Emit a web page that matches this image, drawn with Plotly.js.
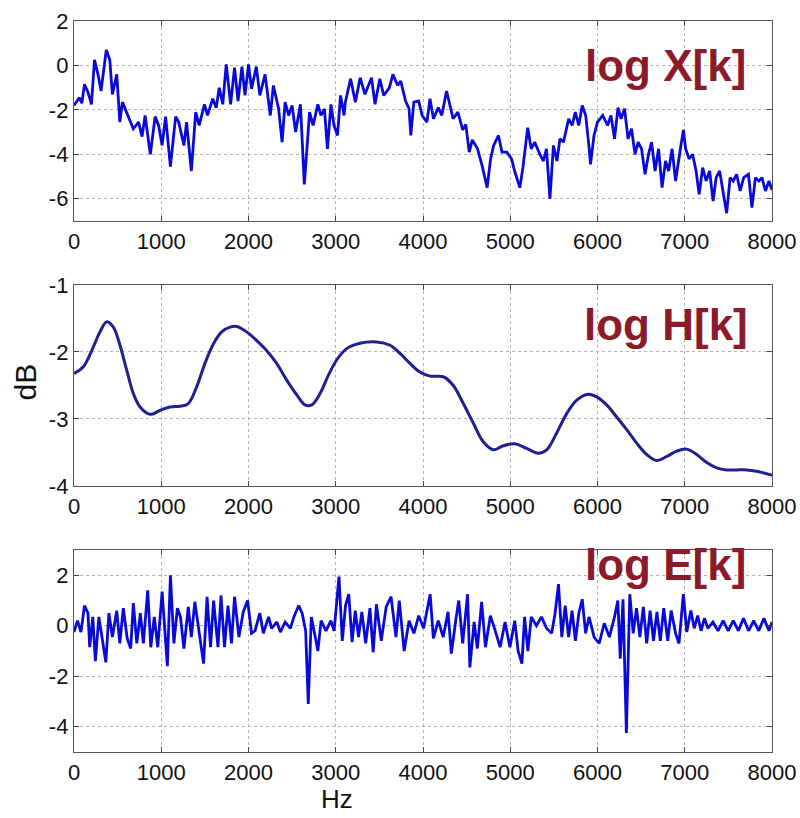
<!DOCTYPE html>
<html>
<head>
<meta charset="utf-8">
<script src="https://cdn.plot.ly/plotly-3.0.1.min.js"></script>
<style>
html,body{margin:0;padding:0;background:#fff;}
#chart{width:800px;height:818px;}
</style>
</head>
<body>
<div id="chart"></div>
<script>
// ---- data ----
const freqX = [0,60,90,120,160,200,235,275,310,370,410,440,490,525,555,620,680,740,780,815,875,930,970,1010,1050,1105,1165,1200,1260,1290,1345,1395,1435,1495,1530,1590,1630,1665,1705,1745,1795,1840,1880,1925,1960,2000,2035,2090,2130,2190,2250,2285,2345,2385,2420,2460,2500,2540,2595,2640,2700,2740,2795,2830,2870,2905,2945,2980,3020,3055,3095,3110,3170,3225,3280,3335,3410,3450,3505,3550,3615,3655,3710,3745,3800,3840,3860,3895,3950,3990,4045,4080,4120,4175,4215,4270,4305,4345,4400,4455,4490,4530,4565,4625,4680,4735,4775,4810,4865,4905,4960,5015,5050,5110,5145,5200,5240,5280,5340,5380,5415,5455,5495,5535,5570,5610,5670,5710,5745,5785,5825,5865,5905,5920,5960,6000,6060,6115,6155,6195,6235,6270,6310,6350,6390,6430,6465,6505,6545,6585,6620,6660,6700,6740,6780,6815,6855,6895,6950,6985,7010,7050,7090,7130,7165,7205,7245,7285,7325,7360,7400,7440,7480,7520,7555,7595,7635,7675,7730,7770,7810,7850,7885,7925,7965,8000];
const logX = [-1.8,-1.45,-1.7,-0.85,-1.2,-1.75,0.25,-0.4,-1.15,0.7,0.25,-1.3,-0.4,-2.55,-1.65,-2.25,-2.85,-2.55,-3.2,-2.25,-4.0,-2.3,-2.7,-3.6,-2.3,-4.55,-2.3,-2.55,-3.6,-2.55,-4.75,-2.1,-2.7,-1.75,-2.25,-1.5,-1.9,-1.0,-1.75,0.05,-1.75,-0.1,-1.6,-0.05,-1.35,0.05,-1.05,-0.05,-1.35,-0.4,-2.25,-0.9,-1.95,-3.45,-1.65,-2.25,-1.8,-3.0,-1.75,-5.35,-2.1,-2.7,-1.75,-2.25,-1.95,-3.75,-1.75,-2.7,-3.15,-1.35,-2.25,-1.65,-0.6,-1.65,-0.55,-1.3,-0.55,-1.75,-0.6,-1.35,-1.0,-0.4,-0.9,-0.7,-1.6,-1.95,-3.15,-1.65,-1.6,-2.25,-2.55,-1.5,-2.4,-1.9,-2.25,-1.15,-1.8,-2.4,-2.1,-2.9,-2.65,-3.9,-3.35,-3.75,-4.55,-5.5,-4.2,-3.6,-3.15,-3.9,-3.9,-4.2,-4.75,-5.5,-4.6,-2.8,-3.75,-3.45,-4.0,-4.3,-3.75,-6.0,-3.6,-4.3,-3.3,-3.45,-2.4,-2.7,-2.1,-2.7,-1.8,-2.25,-3.75,-4.45,-3.15,-2.55,-2.25,-2.7,-2.25,-3.3,-1.9,-2.4,-1.95,-3.3,-2.85,-4.0,-3.45,-3.75,-4.9,-4.0,-3.45,-4.75,-3.75,-5.5,-4.3,-4.75,-3.75,-5.2,-3.75,-2.9,-3.75,-4.2,-4.0,-4.75,-5.8,-4.6,-5.2,-4.75,-6.1,-5.05,-4.75,-5.8,-6.65,-5.05,-5.2,-4.9,-5.65,-5.05,-4.9,-6.4,-5.05,-5.2,-5.05,-5.65,-5.2,-5.6];

const freqH = [0,107,203,298,375,451,527,604,680,756,833,890,986,1100,1215,1310,1406,1501,1597,1693,1788,1865,1979,2094,2209,2323,2438,2553,2648,2725,2820,2915,3010,3125,3278,3469,3622,3736,3851,3965,4080,4233,4347,4462,4576,4691,4806,4920,5054,5188,5322,5418,5532,5647,5762,5895,5991,6105,6220,6335,6449,6564,6679,6793,6908,7022,7137,7252,7366,7481,7595,7710,7824,7977,8000];
const logH = [-2.32,-2.22,-1.98,-1.70,-1.55,-1.63,-1.90,-2.27,-2.62,-2.82,-2.91,-2.93,-2.87,-2.82,-2.81,-2.77,-2.52,-2.17,-1.88,-1.70,-1.63,-1.62,-1.70,-1.83,-1.98,-2.17,-2.42,-2.64,-2.79,-2.79,-2.62,-2.35,-2.12,-1.95,-1.87,-1.85,-1.90,-2.02,-2.17,-2.30,-2.36,-2.37,-2.50,-2.77,-3.06,-3.34,-3.46,-3.40,-3.37,-3.44,-3.51,-3.46,-3.21,-2.92,-2.72,-2.63,-2.67,-2.79,-2.97,-3.16,-3.36,-3.53,-3.62,-3.56,-3.48,-3.45,-3.53,-3.65,-3.73,-3.76,-3.76,-3.76,-3.78,-3.83,-3.84];

const freqE = [0,40,80,120,160,180,215,245,285,325,365,400,440,490,525,565,610,650,680,720,760,795,845,880,920,960,1010,1070,1105,1145,1185,1220,1260,1310,1345,1385,1435,1485,1525,1565,1600,1650,1685,1725,1765,1805,1840,1890,1940,1990,2035,2075,2130,2170,2230,2265,2325,2365,2420,2480,2520,2575,2615,2655,2685,2720,2757,2795,2832,2888,2944,2981,3037,3075,3112,3149,3187,3224,3261,3299,3343,3392,3429,3466,3522,3578,3634,3690,3728,3784,3840,3896,3951,4007,4082,4119,4175,4231,4287,4325,4381,4410,4455,4511,4537,4586,4623,4672,4716,4772,4828,4884,4940,4996,5052,5090,5134,5164,5202,5241,5300,5358,5416,5475,5514,5553,5591,5630,5669,5708,5747,5786,5825,5864,5903,5961,6019,6078,6136,6195,6233,6261,6292,6331,6370,6409,6447,6486,6525,6564,6603,6642,6681,6720,6759,6805,6844,6895,6934,6984,7023,7070,7109,7148,7187,7226,7265,7323,7381,7440,7498,7556,7615,7673,7732,7790,7848,7907,7965,8000];
const logE = [-0.25,0.2,-0.25,0.8,0.5,-0.85,0.35,-1.4,0.35,-0.6,-1.45,0.5,-0.45,0.6,-0.7,0.7,-0.5,-0.9,0.9,-0.7,0.5,-0.7,1.4,-0.85,0.35,-0.85,1.35,-1.6,2.0,-0.7,0.7,0.35,-0.9,0.75,-0.45,0.95,-0.2,-1.5,1.15,-0.85,1.0,-0.85,1.2,-0.85,0.8,-0.7,1.15,-0.45,0.55,1.0,-0.3,-0.2,0.5,-0.3,0.35,-0.1,0.15,-0.25,0.15,-0.1,0.35,0.8,0.5,-0.2,-3.1,0.35,-0.3,-1.0,0.2,-0.2,0.2,-0.2,1.95,-0.6,0.8,1.25,-0.65,0.6,-0.45,0.55,-0.7,0.7,-1.05,0.85,-0.6,0.75,1.15,-0.45,1.0,-1.0,0.2,-0.3,0.4,-0.1,1.25,-0.5,0.2,-0.45,0.55,-1.1,0.35,1.0,-0.7,1.25,-1.65,0.15,-0.9,0.95,-0.85,0.4,-0.2,-0.85,0.15,-0.85,0.2,-1.0,-1.5,0.35,-1.0,0.35,0.0,0.35,-0.1,-0.3,0.5,1.65,-0.45,0.8,-0.45,0.6,-0.6,0.5,1.05,-0.3,0.35,-0.45,-0.7,0.1,-0.45,0.35,1.0,-1.3,1.05,-4.25,1.25,-0.3,0.7,-0.45,0.75,-0.7,0.6,-0.6,0.55,-0.6,0.7,-0.6,0.6,-0.3,-0.7,1.25,-0.25,0.6,-0.1,0.4,-0.2,0.3,-0.1,0.15,-0.2,0.2,-0.2,0.2,-0.2,0.3,-0.2,0.2,-0.2,0.3,-0.2,0.15];

const hzTicks = [0,1000,2000,3000,4000,5000,6000,7000,8000];
const hzTickText = ["0","1000","2000","3000","4000","5000","6000","7000","8000"];
const yTicksX = [-6,-4,-2,0,2];
const yTextX = ["-6","-4","-2","0","2"];
const yTicksH = [-4,-3,-2,-1];
const yTextH = ["-4","-3","-2","-1"];
const yTicksE = [-4,-2,0,2];
const yTextE = ["-4","-2","0","2"];
const labels = ["log X[k]","log H[k]","log E[k]"];

// ---- styling ----
const tickFont = {family:"Liberation Sans, Arial, sans-serif", size:22, color:"#111"};
function xax(anchor){
  return {anchor:anchor, range:[0,8000], tickvals:hzTicks, ticktext:hzTickText, tickfont:tickFont,
    ticklabeloverflow:"allow",
    showgrid:true, gridcolor:"#b4b4b4", griddash:"dot", gridwidth:1, zeroline:false,
    showline:true, linecolor:"#555", linewidth:1.2, mirror:"ticks", ticks:"inside", ticklen:5, tickcolor:"#444"};
}
function yax(domain, range, vals, text){
  return {domain:domain, range:range, tickvals:vals, ticktext:text, tickfont:tickFont,
    ticklabeloverflow:"allow",
    showgrid:true, gridcolor:"#b4b4b4", griddash:"dot", gridwidth:1, zeroline:false,
    showline:true, linecolor:"#555", linewidth:1.2, mirror:"ticks", ticks:"inside", ticklen:5, tickcolor:"#444"};
}

const traces = [
  {x:freqX, y:logX, xaxis:"x", yaxis:"y", type:"scatter", mode:"lines", line:{color:"#0a0ad8", width:2.8}},
  {x:freqH, y:logH, xaxis:"x2", yaxis:"y2", type:"scatter", mode:"lines", line:{color:"#1f1f8f", width:3, shape:"spline"}},
  {x:freqE, y:logE, xaxis:"x3", yaxis:"y3", type:"scatter", mode:"lines", line:{color:"#0a0ad8", width:2.8}}
];

const labelFont = {family:"Liberation Sans, Arial, sans-serif", size:44, color:"#8b1a2a"};
const layout = {
  width:800, height:818, showlegend:false,
  paper_bgcolor:"#fff", plot_bgcolor:"#fff",
  margin:{l:74, r:28, t:21, b:66},
  xaxis: xax("y"), xaxis2: xax("y2"), xaxis3: xax("y3"),
  yaxis: yax([0.7264,1], [-7,2], yTicksX, yTextX),
  yaxis2: yax([0.3639,0.6389], [-4,-1], yTicksH, yTextH),
  yaxis3: yax([0,0.2763], [-5,3], yTicksE, yTextE),
  annotations:[
    {text:"<b>"+labels[0]+"</b>", xref:"paper", yref:"paper", x:0.848, y:0.9385, xanchor:"center", yanchor:"middle", showarrow:false, font:labelFont},
    {text:"<b>"+labels[1]+"</b>", xref:"paper", yref:"paper", x:0.848, y:0.5847, xanchor:"center", yanchor:"middle", showarrow:false, font:labelFont},
    {text:"<b>"+labels[2]+"</b>", xref:"paper", yref:"paper", x:0.848, y:0.2568, xanchor:"center", yanchor:"middle", showarrow:false, font:labelFont},
    {text:"dB", xref:"paper", yref:"paper", x:-0.0702, y:0.5055, xanchor:"center", yanchor:"middle", textangle:-90, showarrow:false, font:{family:"Liberation Sans, Arial, sans-serif", size:30, color:"#111"}},
    {text:"Hz", xref:"paper", yref:"paper", x:0.377, y:-0.0643, xanchor:"center", yanchor:"middle", showarrow:false, font:{family:"Liberation Sans, Arial, sans-serif", size:26, color:"#111"}}
  ]
};

Plotly.newPlot("chart", traces, layout, {staticPlot:true, displayModeBar:false});
</script>
</body>
</html>
